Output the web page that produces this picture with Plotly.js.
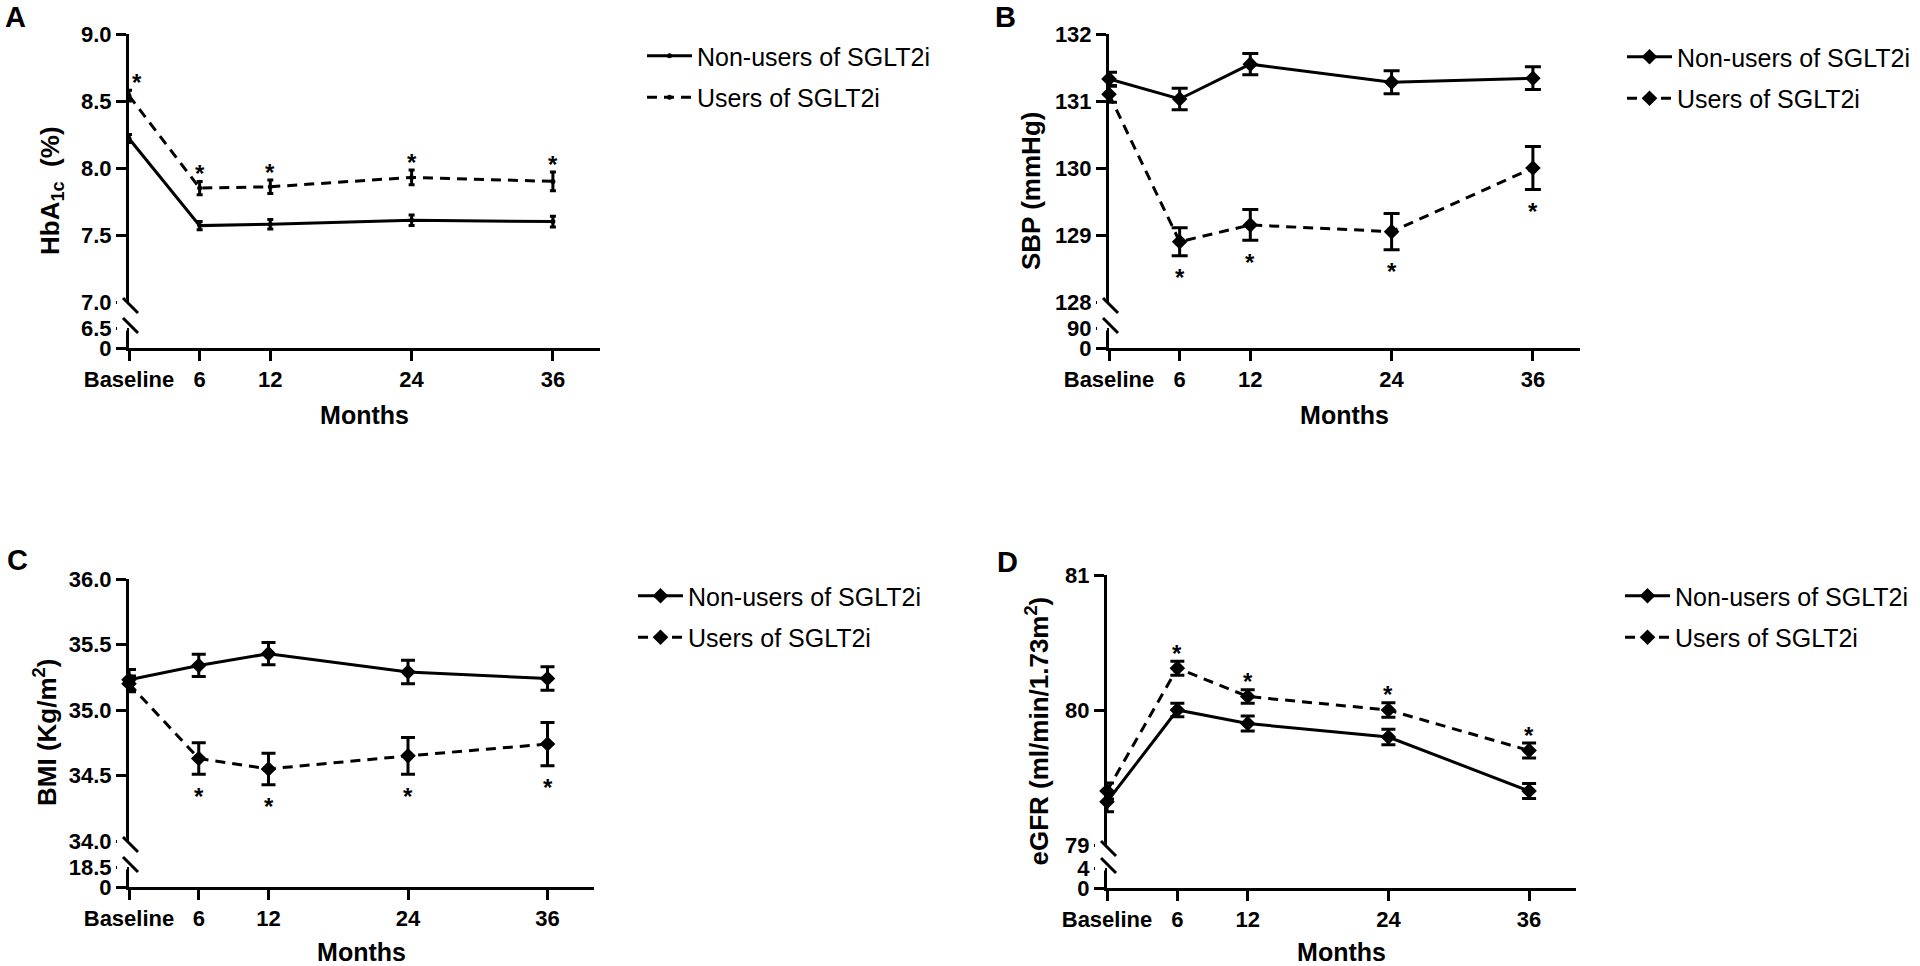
<!DOCTYPE html>
<html>
<head>
<meta charset="utf-8">
<script src="https://cdn.plot.ly/plotly-3.0.1.min.js"></script>
<style>
  html, body { margin: 0; padding: 0; background: #fff; }
  #chart { width: 1920px; height: 966px; }
</style>
</head>
<body>
<div id="chart"></div>
<script>
// follow-up time points (baseline = month 0)
const months = [0, 6, 12, 24, 36];
const monthLabels = ['Baseline', '6', '12', '24', '36'];
const groupNames = ['Non-users of SGLT2i', 'Users of SGLT2i'];

// A - HbA1c
const hba1cNonUsers = [8.22, 7.57, 7.58, 7.61, 7.60];
const hba1cNonUsersErr = [0.03, 0.03, 0.035, 0.04, 0.04];
const hba1cUsers = [8.54, 7.85, 7.86, 7.93, 7.90];
const hba1cUsersErr = [0.04, 0.05, 0.05, 0.055, 0.07];
const hba1cTicks = [7.0, 7.5, 8.0, 8.5, 9.0];
const hba1cLowTicks = [0, 6.5];
const hba1cLowLabels = ['0', '6.5'];
const hba1cStars = [0, 1, 2, 3, 4];

// B - SBP
const sbpNonUsers = [131.33, 131.03, 131.55, 131.28, 131.34];
const sbpNonUsersErr = [0.1, 0.16, 0.16, 0.17, 0.17];
const sbpUsers = [131.1, 128.9, 129.15, 129.05, 130.0];
const sbpUsersErr = [0.12, 0.21, 0.23, 0.27, 0.32];
const sbpTicks = [128, 129, 130, 131, 132];
const sbpLowTicks = [0, 90];
const sbpLowLabels = ['0', '90'];
const sbpStars = [1, 2, 3, 4];

// C - BMI
const bmiNonUsers = [35.23, 35.34, 35.43, 35.29, 35.24];
const bmiNonUsersErr = [0.08, 0.085, 0.085, 0.09, 0.09];
const bmiUsers = [35.2, 34.63, 34.55, 34.65, 34.74];
const bmiUsersErr = [0.06, 0.12, 0.12, 0.14, 0.165];
const bmiTicks = [34.0, 34.5, 35.0, 35.5, 36.0];
const bmiLowTicks = [0, 18.5];
const bmiLowLabels = ['0', '18.5'];
const bmiStars = [1, 2, 3, 4];

// D - eGFR
const egfrNonUsers = [79.32, 80.0, 79.9, 79.8, 79.4];
const egfrNonUsersErr = [0.074, 0.05, 0.055, 0.058, 0.055];
const egfrUsers = [79.4, 80.31, 80.1, 80.0, 79.7];
const egfrUsersErr = [0.06, 0.052, 0.05, 0.054, 0.055];
const egfrTicks = [79, 80, 81];
const egfrLowTicks = [0, 4];
const egfrLowLabels = ['0', '4'];
const egfrStars = [1, 2, 3, 4];

const W = 1920, H = 966;
const FONT = 'Liberation Sans, Arial, sans-serif';
const px = v => v / W;
const py = v => 1 - v / H;

// frame of each panel in page pixels
const panels = [
  { letter: 'A', title: 'HbA<sub>1c</sub>  (%)', nu: hba1cNonUsers, nuErr: hba1cNonUsersErr,
    us: hba1cUsers, usErr: hba1cUsersErr, ticks: hba1cTicks, fmt: '.1f',
    low: hba1cLowTicks, lowText: hba1cLowLabels, stars: hba1cStars, starSide: 1,
    symbol: 'circle', msize: 5, capw: 3,
    left: 129, right: 600, top: 34, brk: 302, lowTop: 328, bottom: 348,
    titleX: 51, letterX: 15, letterY: 17, legX: 642, legY: 33 },
  { letter: 'B', title: 'SBP (mmHg)', nu: sbpNonUsers, nuErr: sbpNonUsersErr,
    us: sbpUsers, usErr: sbpUsersErr, ticks: sbpTicks, fmt: 'd',
    low: sbpLowTicks, lowText: sbpLowLabels, stars: sbpStars, starSide: -1,
    symbol: 'diamond', msize: 12, capw: 8,
    left: 1109, right: 1580, top: 34, brk: 302, lowTop: 328, bottom: 348,
    titleX: 1031, letterX: 1005, letterY: 17, legX: 1622, legY: 34 },
  { letter: 'C', title: 'BMI (Kg/m<sup>2</sup>)', nu: bmiNonUsers, nuErr: bmiNonUsersErr,
    us: bmiUsers, usErr: bmiUsersErr, ticks: bmiTicks, fmt: '.1f',
    low: bmiLowTicks, lowText: bmiLowLabels, stars: bmiStars, starSide: -1,
    symbol: 'diamond', msize: 12, capw: 7,
    left: 129, right: 594, top: 579, brk: 841, lowTop: 867, bottom: 887,
    titleX: 45, letterX: 17, letterY: 560, legX: 633, legY: 573 },
  { letter: 'D', title: 'eGFR (ml/min/1.73m<sup>2</sup>)', nu: egfrNonUsers, nuErr: egfrNonUsersErr,
    us: egfrUsers, usErr: egfrUsersErr, ticks: egfrTicks, fmt: 'd',
    low: egfrLowTicks, lowText: egfrLowLabels, stars: egfrStars, starSide: 1,
    symbol: 'diamond', msize: 12, capw: 7,
    left: 1107, right: 1576, top: 575, brk: 845, lowTop: 868, bottom: 888,
    titleX: 1038, letterX: 1007, letterY: 562, legX: 1620, legY: 573 }
];

const axisStyle = {
  showline: true, linecolor: 'black', linewidth: 3,
  ticks: 'outside', ticklen: 10, tickwidth: 3, tickcolor: 'black',
  showgrid: false, zeroline: false, fixedrange: true, automargin: false,
  tickfont: { family: FONT, size: 22, color: 'black', weight: 'bold' }
};

const traces = [];
const layout = {
  width: W, height: H,
  margin: { l: 0, r: 0, t: 0, b: 0 },
  paper_bgcolor: 'white', plot_bgcolor: 'rgba(0,0,0,0)',
  font: { family: FONT, color: 'black' },
  showlegend: true,
  annotations: [],
  shapes: []
};

panels.forEach((p, i) => {
  const n = i + 1;
  const xKey = n === 1 ? '' : String(n);
  const upIdx = 2 * i + 1, lowIdx = 2 * i + 2;
  const upKey = upIdx === 1 ? '' : String(upIdx);
  const lowKey = String(lowIdx);
  const legKey = n === 1 ? 'legend' : 'legend' + n;

  layout['xaxis' + xKey] = Object.assign({}, axisStyle, {
    domain: [px(p.left), px(p.right)],
    anchor: 'y' + lowKey,
    range: [0, 40],
    tickvals: months, ticktext: monthLabels,
    title: { text: 'Months', standoff: 16,
      font: { family: FONT, size: 25, color: 'black', weight: 'bold' } }
  });
  layout['yaxis' + upKey] = Object.assign({}, axisStyle, {
    domain: [py(p.brk), py(p.top)],
    anchor: 'x' + xKey,
    range: [p.ticks[0], p.ticks[p.ticks.length - 1]],
    tickvals: p.ticks, tickformat: p.fmt
  });
  layout['yaxis' + lowKey] = Object.assign({}, axisStyle, {
    domain: [py(p.bottom), py(p.lowTop)],
    anchor: 'x' + xKey,
    range: [p.low[0], p.low[1]],
    tickvals: p.low, ticktext: p.lowText
  });

  [[p.nu, p.nuErr], [p.us, p.usErr]].forEach((s, k) => {
    traces.push({
      type: 'scatter', mode: 'lines+markers',
      x: months, y: s[0], name: groupNames[k],
      xaxis: 'x' + xKey, yaxis: 'y' + upKey,
      legend: legKey, legendgroup: p.letter + k,
      line: { color: 'black', width: 3, dash: k ? '10px,7px' : 'solid' },
      marker: { symbol: p.symbol, size: p.msize, color: 'black' },
      error_y: { type: 'data', array: s[1], visible: true, color: 'black',
        thickness: 3, width: p.capw },
      cliponaxis: false, hoverinfo: 'skip'
    });
  });
  // empty trace so the short lower (broken) axis segment gets its own subplot
  traces.push({
    type: 'scatter', mode: 'markers', x: [null], y: [null],
    xaxis: 'x' + xKey, yaxis: 'y' + lowKey,
    showlegend: false, hoverinfo: 'skip'
  });

  layout[legKey] = {
    x: px(p.legX), y: py(p.legY), xanchor: 'left', yanchor: 'top',
    bgcolor: 'rgba(0,0,0,0)', borderwidth: 0,
    itemwidth: 45, tracegroupgap: 6, traceorder: 'grouped',
    font: { family: FONT, size: 25, color: 'black' }
  };

  // significance marks next to the users' error bars
  p.stars.forEach(j => {
    layout.annotations.push({
      xref: 'x' + xKey, yref: 'y' + upKey,
      x: months[j], y: p.us[j] + p.starSide * p.usErr[j],
      xshift: months[j] === 0 ? 8 : 0,
      yshift: p.starSide > 0 ? 8 : -22,
      text: '*', showarrow: false, xanchor: 'center', yanchor: 'middle',
      font: { family: FONT, size: 24, color: 'black', weight: 'bold' }
    });
  });

  // panel letter and y title
  layout.annotations.push({
    xref: 'paper', yref: 'paper', x: px(p.letterX), y: py(p.letterY),
    text: p.letter, showarrow: false, xanchor: 'center', yanchor: 'middle',
    font: { family: FONT, size: 29, color: 'black', weight: 'bold' }
  });
  layout.annotations.push({
    xref: 'paper', yref: 'paper', x: px(p.titleX), y: py((p.top + p.bottom) / 2),
    text: p.title, textangle: -90, showarrow: false, xanchor: 'center', yanchor: 'middle',
    font: { family: FONT, size: 26, color: 'black', weight: 'bold' }
  });

  // axis break: hide the ticks at both ends of the gap, then draw the slashes
  [p.brk, p.lowTop].forEach(yb => {
    layout.shapes.push({
      type: 'line', xref: 'paper', yref: 'paper',
      x0: px(p.left - 12), y0: py(yb), x1: px(p.left - 2), y1: py(yb),
      line: { color: 'white', width: 5 }
    });
  });
  const bx0 = px(p.left - 6), bx1 = px(p.left + 9);
  [[p.brk - 4, p.brk + 11], [p.lowTop - 10, p.lowTop + 5]].forEach(b => {
    layout.shapes.push({
      type: 'line', xref: 'paper', yref: 'paper',
      x0: bx0, y0: py(b[0]), x1: bx1, y1: py(b[1]),
      line: { color: 'black', width: 3 }
    });
  });
});

Plotly.newPlot('chart', traces, layout, { staticPlot: true });
</script>
</body>
</html>
